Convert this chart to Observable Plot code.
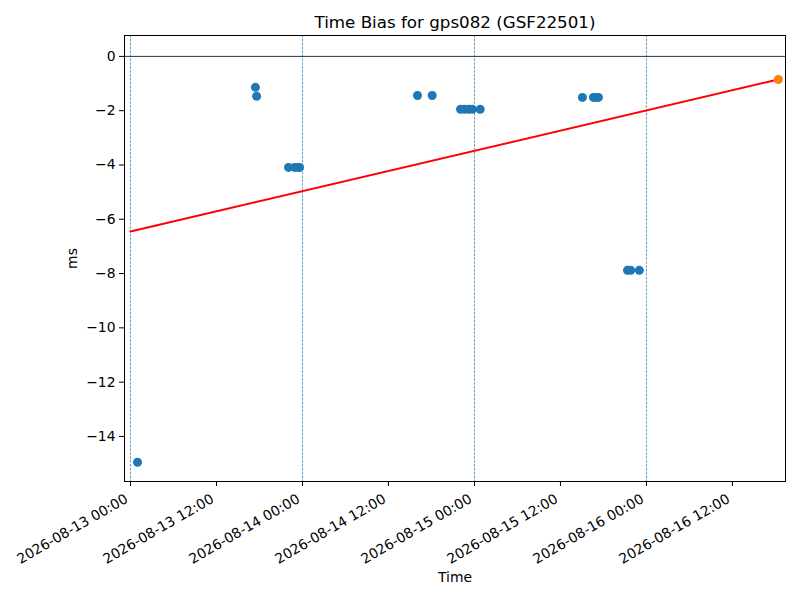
<!DOCTYPE html>
<html><head><meta charset="utf-8">
<script src="https://cdn.jsdelivr.net/npm/d3@7"></script>
<script src="https://cdn.jsdelivr.net/npm/@observablehq/plot@0.6"></script>
<style>body{margin:0;background:#fff} svg{display:block}</style>
</head><body><div id="chart"></div>
<script>
const biasTimes = [
  "2026-08-13T00:59Z",
  "2026-08-13T17:26Z","2026-08-13T17:36Z",
  "2026-08-13T22:03Z","2026-08-13T22:54Z","2026-08-13T23:18Z","2026-08-13T23:36Z",
  "2026-08-14T16:03Z","2026-08-14T18:06Z",
  "2026-08-14T22:03Z","2026-08-14T22:36Z","2026-08-14T23:12Z","2026-08-14T23:42Z","2026-08-15T00:48Z",
  "2026-08-15T15:04Z","2026-08-15T16:36Z","2026-08-15T16:54Z","2026-08-15T17:18Z",
  "2026-08-15T21:21Z","2026-08-15T21:48Z","2026-08-15T23:00Z"
];
const biasValues = [
  -14.95,
  -1.14, -1.47,
  -4.09, -4.09, -4.09, -4.09,
  -1.44, -1.44,
  -1.95, -1.95, -1.95, -1.95, -1.95,
  -1.51, -1.51, -1.51, -1.51,
  -7.88, -7.88, -7.88
];
const lastTimes = ["2026-08-16T18:24Z"];
const lastValues = [-0.85];
const fitTimes = ["2026-08-13T00:00Z", "2026-08-16T18:24Z"];
const fitValues = [-6.45, -0.85];
const dayLines = ["2026-08-13T00:00Z","2026-08-14T00:00Z","2026-08-15T00:00Z","2026-08-16T00:00Z"];
const xTicks = ["2026-08-13T00:00Z","2026-08-13T12:00Z","2026-08-14T00:00Z","2026-08-14T12:00Z",
                "2026-08-15T00:00Z","2026-08-15T12:00Z","2026-08-16T00:00Z","2026-08-16T12:00Z"];
const yTicks = [-14, -12, -10, -8, -6, -4, -2, 0];
const xDomain = ["2026-08-12T23:10Z", "2026-08-16T19:24Z"];
const yDomain = [-15.66, 0.77];
const title = "Time Bias for gps082 (GSF22501)";

const D = s => new Date(s);
const bias = biasTimes.map((t, i) => ({t: D(t), v: biasValues[i]}));
const last = lastTimes.map((t, i) => ({t: D(t), v: lastValues[i]}));
const fit = fitTimes.map((t, i) => ({t: D(t), v: fitValues[i]}));
const fmt = d3.utcFormat("%Y-%m-%d %H:%M");

const plot = Plot.plot({
  width: 800, height: 600,
  marginLeft: 124, marginRight: 15, marginTop: 35, marginBottom: 119,
  style: {fontFamily: "DejaVu Sans", fontSize: "13.9px", color: "#000", background: "#fff"},
  x: {type: "utc", domain: xDomain.map(D)},
  y: {domain: yDomain},
  marks: [
    Plot.ruleX(dayLines.map(D), {stroke: "#1f77b4", strokeWidth: 0.7, strokeDasharray: "2.6,1.3"}),
    Plot.ruleY([0], {stroke: "black", strokeWidth: 0.8}),
    Plot.line(fit, {x: "t", y: "v", stroke: "red", strokeWidth: 2}),
    Plot.dot(bias, {x: "t", y: "v", r: 4.5, fill: "#1f77b4"}),
    Plot.dot(last, {x: "t", y: "v", r: 4.5, fill: "#ff7f0e"}),
    Plot.frame({stroke: "black", strokeWidth: 1}),
    Plot.axisX({ticks: xTicks.map(D), tickFormat: () => "", tickSize: 5,
      label: "Time", labelAnchor: "center", labelOffset: 100, labelArrow: "none"}),
    Plot.text(xTicks.map(D), {x: d => d, text: d => fmt(d), frameAnchor: "bottom",
      rotate: -30, textAnchor: "end", lineAnchor: "top", dx: -6.5, dy: 11.5, fontSize: 13.9}),
    Plot.axisY({ticks: yTicks, tickSize: 5, tickFormat: d => d < 0 ? "\u2212" + Math.abs(d) : String(d),
      label: "ms", labelAnchor: "center", labelOffset: 57, labelArrow: "none"}),
    Plot.text([title], {frameAnchor: "top", dy: -8, lineAnchor: "bottom", fontSize: 16.7})
  ]
});
document.getElementById("chart").appendChild(plot);
</script>
</body></html>
